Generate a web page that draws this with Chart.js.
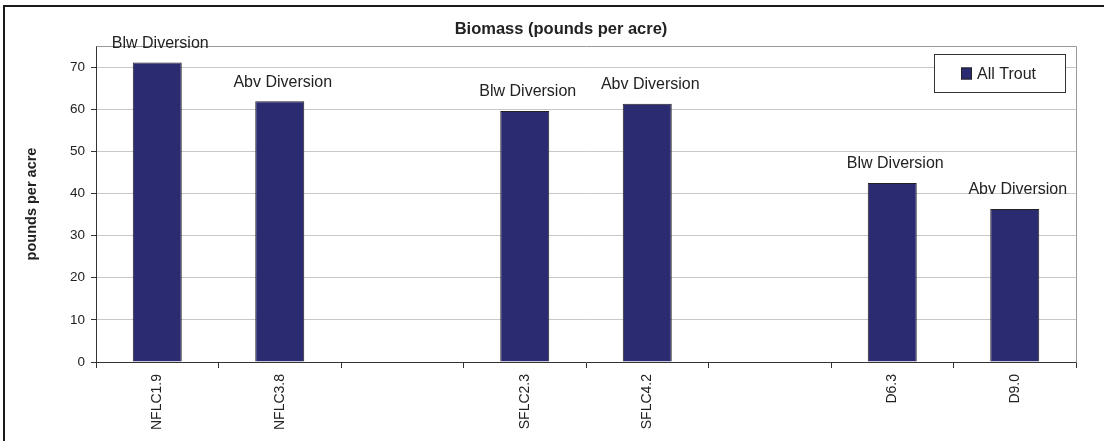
<!DOCTYPE html>
<html>
<head>
<meta charset="utf-8">
<script src="https://cdn.jsdelivr.net/npm/chart.js@4/dist/chart.umd.min.js"></script>
<style>
  html, body { margin: 0; padding: 0; background: #fff; }
  #wrap { width: 1104px; height: 441px; }
</style>
</head>
<body>
<div id="wrap"><canvas id="c" width="1104" height="441"></canvas></div>
<script>
// ---- data ----
const categories = ['NFLC1.9', 'NFLC3.8', '', 'SFLC2.3', 'SFLC4.2', '', 'D6.3', 'D9.0'];
const allTrout = [71.1, 61.9, null, 59.6, 61.3, null, 42.5, 36.3];
const siteLabels = ['Blw Diversion', 'Abv Diversion', '', 'Blw Diversion', 'Abv Diversion', '', 'Blw Diversion', 'Abv Diversion'];
const seriesName = 'All Trout';
const chartTitle = 'Biomass (pounds per acre)';
const yTitle = 'pounds per acre';
const yMin = 0, yMax = 75, yStep = 10;

const FONT = '"Liberation Sans", Arial, sans-serif';
Chart.defaults.font.family = FONT;
const BAR = '#2B2B72';

const decor = {
  id: 'decor',
  beforeDraw(chart) {
    const ctx = chart.ctx;
    ctx.save();
    ctx.fillStyle = '#fff';
    ctx.fillRect(0, 0, chart.width, chart.height);
    ctx.restore();
  },
  beforeDatasetsDraw(chart) {
    const ctx = chart.ctx, a = chart.chartArea;
    ctx.save();
    ctx.strokeStyle = '#9a9a9a';
    ctx.lineWidth = 1;
    ctx.beginPath();
    ctx.moveTo(Math.round(a.left) + 0.5, Math.round(a.top) + 0.5);
    ctx.lineTo(Math.round(a.right) + 0.5, Math.round(a.top) + 0.5);
    ctx.lineTo(Math.round(a.right) + 0.5, Math.round(a.bottom) + 0.5);
    ctx.stroke();
    ctx.restore();
  },
  afterDraw(chart) {
    const ctx = chart.ctx, a = chart.chartArea;
    ctx.save();
    ctx.strokeStyle = '#1a1a1a';
    ctx.lineWidth = 2;
    ctx.beginPath();
    ctx.moveTo(chart.width + 2, 6);
    ctx.lineTo(4, 6);
    ctx.lineTo(4, chart.height + 2);
    ctx.stroke();

    ctx.fillStyle = '#222';
    ctx.font = 'bold 16.5px ' + FONT;
    ctx.textAlign = 'center';
    ctx.textBaseline = 'middle';
    ctx.fillText(chartTitle, 561, 29.5);

    ctx.save();
    ctx.translate(32, (a.top + a.bottom) / 2);
    ctx.rotate(-Math.PI / 2);
    ctx.font = 'bold 14.5px ' + FONT;
    ctx.fillText(yTitle, 0, 0);
    ctx.restore();

    const meta = chart.getDatasetMeta(0);
    ctx.font = '16px ' + FONT;
    ctx.fillStyle = '#222';
    ctx.textAlign = 'center';
    ctx.textBaseline = 'middle';
    meta.data.forEach((el, i) => {
      if (allTrout[i] == null || !siteLabels[i]) return;
      ctx.fillText(siteLabels[i], el.x + 3, el.y - 19);
    });

    const lx = 934.5, ly = 54.5, lw = 131, lh = 38;
    ctx.fillStyle = '#fff';
    ctx.fillRect(lx, ly, lw, lh);
    ctx.strokeStyle = '#333';
    ctx.lineWidth = 1;
    ctx.strokeRect(lx, ly, lw, lh);
    ctx.fillStyle = BAR;
    ctx.fillRect(961, 67.5, 11, 12);
    ctx.strokeStyle = '#222';
    ctx.strokeRect(961.5, 68, 10, 11);
    ctx.fillStyle = '#222';
    ctx.font = '16px ' + FONT;
    ctx.textAlign = 'left';
    ctx.textBaseline = 'middle';
    ctx.fillText(seriesName, 977, 74.5);
    ctx.restore();
  }
};

new Chart(document.getElementById('c'), {
  type: 'bar',
  data: {
    labels: categories,
    datasets: [{
      label: seriesName,
      data: allTrout,
      backgroundColor: BAR,
      borderColor: '#222',
      borderWidth: 1,
      barPercentage: 0.4,
      categoryPercentage: 1.0
    }]
  },
  options: {
    responsive: false,
    animation: false,
    devicePixelRatio: 1,
    layout: { padding: { top: 46, right: 28, left: 0, bottom: 0 } },
    plugins: {
      legend: { display: false },
      title: { display: false },
      tooltip: { enabled: false }
    },
    scales: {
      x: {
        offset: true,
        grid: {
          offset: true,
          drawOnChartArea: false,
          tickLength: 6,
          color: '#333'
        },
        border: { color: '#333', width: 1 },
        ticks: {
          autoSkip: false,
          minRotation: 90,
          maxRotation: 90,
          padding: 6,
          color: '#222',
          font: { size: 14 }
        },
        afterFit(scale) { scale.height = 79; }
      },
      y: {
        min: yMin,
        max: yMax,
        ticks: {
          stepSize: yStep,
          padding: 6,
          color: '#222',
          font: { size: 13.5 }
        },
        afterBuildTicks(scale) {
          scale.ticks = scale.ticks.filter(t => t.value % yStep === 0);
        },
        grid: {
          color: '#c8c8c8',
          tickColor: '#333',
          tickLength: 5
        },
        border: { color: '#333', width: 1 },
        afterFit(scale) { scale.width = 96; }
      }
    }
  },
  plugins: [decor]
});
</script>
</body>
</html>
